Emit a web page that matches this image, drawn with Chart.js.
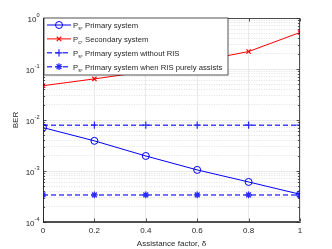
<!DOCTYPE html>
<html><head><meta charset="utf-8">
<script src="https://cdn.jsdelivr.net/npm/chart.js@4/dist/chart.umd.min.js"></script>
<style>html,body{margin:0;padding:0;background:#fff;overflow:hidden}canvas{display:block}</style>
</head><body>
<canvas id="c" width="332" height="249"></canvas>
<script>
// ---- data ----
const delta = [0, 0.2, 0.4, 0.6, 0.8, 1];
const berPrimary = [0.0071, 0.0039, 0.00197, 0.00105, 0.00061, 0.00035];
const berSecondary = [0.047, 0.064, 0.089, 0.14, 0.22, 0.52];
const berNoRIS = [0.0079, 0.0079, 0.0079, 0.0079, 0.0079, 0.0079];
const berPureAssist = [0.00034, 0.00034, 0.00034, 0.00034, 0.00034, 0.00034];
const xTicks = [0, 0.2, 0.4, 0.6, 0.8, 1];
const yTickExps = [0, -1, -2, -3, -4];
const seriesNames = [
  'P_s, Primary system',
  'P_c, Secondary system',
  'P_s, Primary system without RIS',
  'P_s, Primary system when RIS purely assists'
];
const xTitle = 'Assistance factor, δ';
const yTitle = 'BER';

const FONT = '"Liberation Sans", Arial, Helvetica, sans-serif';
const AX = '#262626';
const pts = arr => delta.map((d, i) => ({x: d, y: arr[i]}));

function isDecade(v) {
  const l = Math.log10(v);
  return Math.abs(l - Math.round(l)) < 1e-9;
}

function drawMarker(ctx, style, x, y, r) {
  ctx.beginPath();
  if (style === 'circle') {
    ctx.arc(x, y, r, 0, Math.PI * 2);
  } else if (style === 'crossRot') {
    const d = r * 0.75;
    ctx.moveTo(x - d, y - d); ctx.lineTo(x + d, y + d);
    ctx.moveTo(x - d, y + d); ctx.lineTo(x + d, y - d);
  } else if (style === 'cross') {
    ctx.moveTo(x - r, y); ctx.lineTo(x + r, y);
    ctx.moveTo(x, y - r); ctx.lineTo(x, y + r);
  } else if (style === 'star') {
    const d = r * 0.71;
    ctx.moveTo(x - r, y); ctx.lineTo(x + r, y);
    ctx.moveTo(x, y - r); ctx.lineTo(x, y + r);
    ctx.moveTo(x - d, y - d); ctx.lineTo(x + d, y + d);
    ctx.moveTo(x - d, y + d); ctx.lineTo(x + d, y - d);
  }
  ctx.stroke();
}

const LFS = 7.7, LSUB = 5.4;

const decor = {
  id: 'decor',
  afterDraw(chart) {
    const {ctx, chartArea: a, scales: {x, y}} = chart;
    ctx.save();
    const L = Math.round(a.left) + 0.5, R = Math.round(a.right) - 0.5;
    const T = Math.round(a.top) + 0.5, B = Math.round(a.bottom) - 0.5;
    ctx.strokeStyle = AX; ctx.lineWidth = 0.8;
    // inward tick marks
    ctx.beginPath();
    xTicks.forEach(v => {
      const px = Math.round(x.getPixelForValue(v)) + 0.5;
      ctx.moveTo(px, B); ctx.lineTo(px, B - 3);
      ctx.moveTo(px, T); ctx.lineTo(px, T + 3);
    });
    y.ticks.forEach(t => {
      const py = Math.round(y.getPixelForValue(t.value)) + 0.5;
      const len = isDecade(t.value) ? 3 : 1.6;
      ctx.moveTo(L, py); ctx.lineTo(L + len, py);
      ctx.moveTo(R, py); ctx.lineTo(R - len, py);
    });
    ctx.stroke();
    // box
    ctx.strokeRect(L, T, R - L, B - T);

    // y tick labels 10^n
    ctx.fillStyle = AX;
    ctx.textBaseline = 'alphabetic';
    yTickExps.forEach(e => {
      const py = y.getPixelForValue(Math.pow(10, e));
      ctx.font = '5.6px ' + FONT;
      const es = String(e);
      const ew = ctx.measureText(es).width;
      ctx.font = '8px ' + FONT;
      const bw = ctx.measureText('10').width;
      const right = L - 4;
      ctx.textAlign = 'left';
      ctx.fillText('10', right - ew - bw, py + 3.8);
      ctx.font = '5.6px ' + FONT;
      ctx.fillText(es, right - ew, py - 0.8);
    });

    // legend
    const lx = L + 0.5, ly = T - 0.5, lw = 184, lh = 57;
    ctx.fillStyle = '#fff';
    ctx.fillRect(lx, ly, lw, lh);
    ctx.strokeStyle = AX; ctx.lineWidth = 0.8;
    ctx.strokeRect(lx, ly, lw, lh);
    chart.data.datasets.forEach((ds, i) => {
      const ry = ly + 7 + i * 13.9;
      ctx.strokeStyle = ds.borderColor;
      ctx.lineWidth = ds.borderWidth;
      ctx.setLineDash(ds.borderDash || []);
      ctx.beginPath();
      ctx.moveTo(lx + 3, ry); ctx.lineTo(lx + 27, ry);
      ctx.stroke();
      ctx.setLineDash([]);
      ctx.strokeStyle = ds.pointBorderColor;
      ctx.lineWidth = ds.pointBorderWidth;
      drawMarker(ctx, ds.pointStyle, lx + 15, ry, ds.pointRadius);
      // text with subscript
      const name = seriesNames[i];
      const m = name.match(/^(.)_(.)(.*)$/);
      ctx.fillStyle = AX;
      ctx.textAlign = 'left';
      ctx.textBaseline = 'alphabetic';
      let tx = lx + 29;
      ctx.font = LFS + 'px ' + FONT;
      ctx.fillText(m[1], tx, ry + 3);
      tx += ctx.measureText(m[1]).width;
      ctx.font = LSUB + 'px ' + FONT;
      ctx.fillText(m[2], tx, ry + 5.2);
      tx += ctx.measureText(m[2]).width;
      ctx.font = LFS + 'px ' + FONT;
      ctx.fillText(m[3], tx, ry + 3);
    });
    ctx.restore();
  }
};

new Chart(document.getElementById('c'), {
  type: 'line',
  data: {
    datasets: [
      {data: pts(berPrimary), borderColor: '#0000ff', borderWidth: 1, pointStyle: 'circle',
       pointRadius: 3.5, pointBorderWidth: 1, pointBackgroundColor: 'rgba(0,0,0,0)', pointBorderColor: '#0000ff'},
      {data: pts(berSecondary), borderColor: '#ff0000', borderWidth: 1, pointStyle: 'crossRot',
       pointRadius: 3, pointBorderWidth: 1.2, pointBorderColor: '#ff0000'},
      {data: pts(berNoRIS), borderColor: '#4545ff', borderWidth: 1.5, borderDash: [5, 3], pointStyle: 'cross',
       pointRadius: 3.6, pointBorderWidth: 1.2, pointBorderColor: '#2a2aff'},
      {data: pts(berPureAssist), borderColor: '#4545ff', borderWidth: 1.5, borderDash: [5, 3], pointStyle: 'star',
       pointRadius: 3.4, pointBorderWidth: 1.3, pointBorderColor: '#2a2aff'}
    ]
  },
  options: {
    responsive: false,
    devicePixelRatio: 1,
    animation: false,
    layout: {padding: {left: 11, right: 32, top: 18, bottom: 0}},
    plugins: {legend: {display: false}, tooltip: {enabled: false}},
    elements: {line: {tension: 0}},
    scales: {
      x: {
        type: 'linear', min: 0, max: 1,
        afterBuildTicks: s => { s.ticks = xTicks.map(v => ({value: v})); },
        afterFit: s => { s.height = 27; },
        ticks: {color: AX, font: {size: 8, family: FONT}, padding: 4, maxRotation: 0, autoSkip: false,
                callback: v => String(v)},
        grid: {color: '#e4e4e4', lineWidth: 0.8, drawTicks: false},
        border: {display: true, color: AX, width: 0.8},
        title: {display: true, text: xTitle, color: AX, font: {size: 8, family: FONT}, padding: {top: 2, bottom: 0}}
      },
      y: {
        type: 'logarithmic', min: 1e-4, max: 1,
        afterBuildTicks: s => {
          const t = [];
          for (let e = -4; e < 0; e++) for (let m = 1; m <= 9; m++) t.push({value: m * Math.pow(10, e)});
          t.push({value: 1});
          s.ticks = t;
        },
        afterFit: s => { s.width = 32; },
        ticks: {display: false, autoSkip: false},
        grid: {
          drawTicks: false,
          color: c => (c.tick && isDecade(c.tick.value)) ? '#e4e4e4' : '#d9d9d9',
          lineWidth: 0.8
        },
        border: {display: true, color: AX, width: 0.8,
                 dash: c => (c.tick && isDecade(c.tick.value)) ? [] : [1, 1.5]},
        title: {display: true, text: yTitle, color: AX, font: {size: 8, family: FONT}, padding: {top: 0, bottom: 0}}
      }
    }
  },
  plugins: [decor]
});
</script>
</body></html>
